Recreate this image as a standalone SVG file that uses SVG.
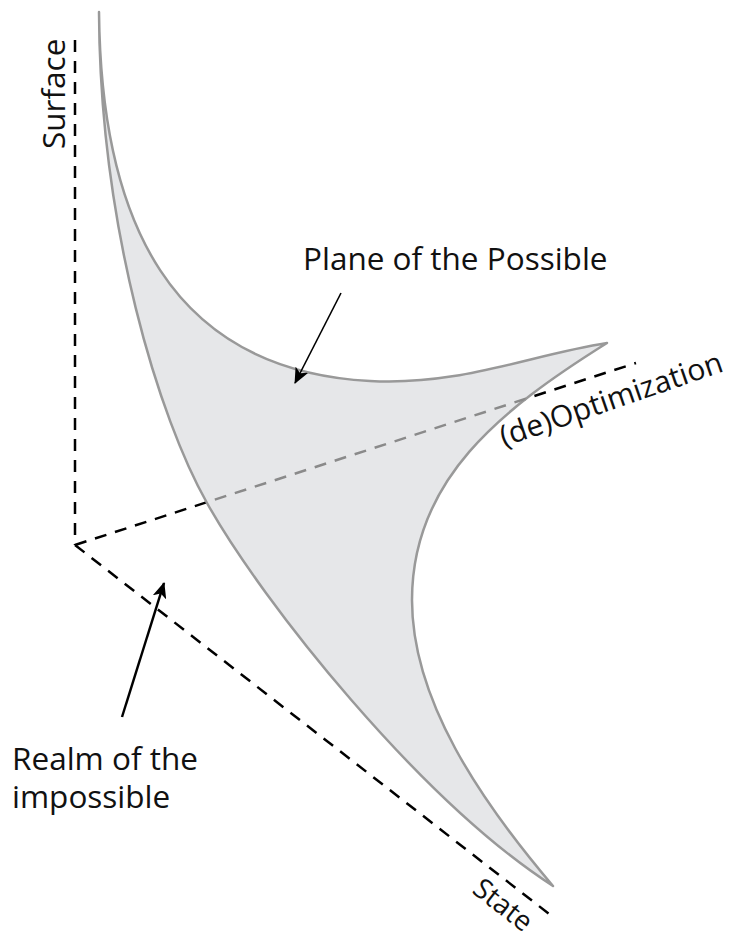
<svg xmlns="http://www.w3.org/2000/svg" width="730" height="939" viewBox="0 0 730 939">
<style>
.axis{fill:none;stroke:#000;stroke-width:2.5;stroke-dasharray:12 9}
.axis-in{fill:none;stroke:#8a8a8a;stroke-width:2.5;stroke-dasharray:12 9}
.lbl{font-family:"Open Sans","Noto Sans",sans-serif;font-size:31.5px;fill:#111}
.ptr{fill:none;stroke:#000}
</style>
<defs>
<marker id="ah" markerUnits="userSpaceOnUse" viewBox="0 0 16 14" refX="15" refY="7" markerWidth="16" markerHeight="14" orient="auto">
<path d="M0,0 L16,7 L0,14 L4,7 Z" fill="#000"/>
</marker>
<clipPath id="shapeClip">
<path d="M99,12 C101,220 170,370 370,381 C460,386 530,355 607,343 C500,410 412,480 412,600 C412,700 480,800 553,886 C420,800 263,603 207,503 C160,420 100,230 99,12 Z"/>
</clipPath>
</defs>
<g id="axes">
<line class="axis" x1="75" y1="40" x2="75" y2="545"/>
<line class="axis" x1="75" y1="545" x2="636" y2="363"/>
<line class="axis" x1="75" y1="545" x2="553" y2="917"/>
</g>
<g id="plane">
<path d="M99,12 C101,220 170,370 370,381 C460,386 530,355 607,343 C500,410 412,480 412,600 C412,700 480,800 553,886 C420,800 263,603 207,503 C160,420 100,230 99,12 Z" fill="#e6e7e9" stroke="#999" stroke-width="2.5" stroke-linejoin="round"/>
<line class="axis-in" x1="75" y1="545" x2="636" y2="363" clip-path="url(#shapeClip)"/>
</g>
<g id="connectors">
<line class="ptr" x1="341" y1="293" x2="295" y2="383" stroke-width="1.6" marker-end="url(#ah)"/>
<line class="ptr" x1="122" y1="717" x2="164" y2="583" stroke-width="2.5" marker-end="url(#ah)"/>
</g>
<g id="labels">
<text class="lbl" transform="translate(65,149) rotate(-90)">Surface</text>
<text class="lbl" x="303" y="270">Plane of the Possible</text>
<text class="lbl" style="font-size:30px" transform="translate(504,447) rotate(-19)">(de)Optimization</text>
<text class="lbl" style="font-size:28px" transform="translate(471,892) rotate(38)">State</text>
<text class="lbl"><tspan x="12" y="770">Realm of the</tspan><tspan x="12" y="808">impossible</tspan></text>
</g>
</svg>
